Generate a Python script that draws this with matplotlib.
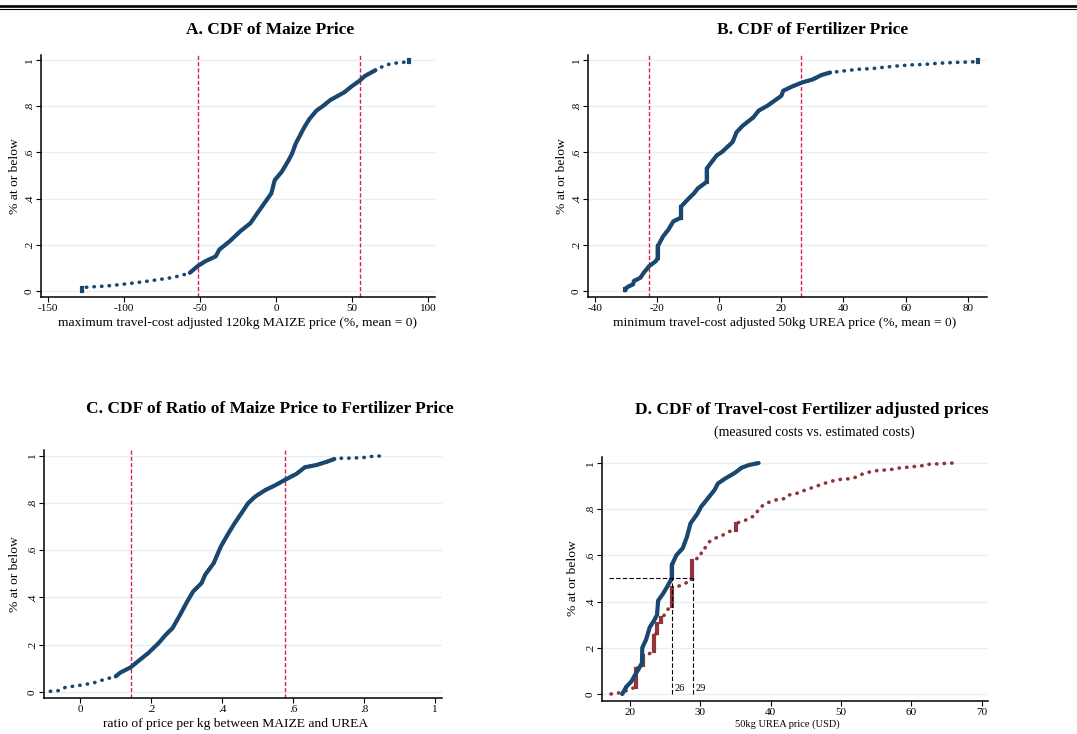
import matplotlib
matplotlib.use("Agg")
import matplotlib.pyplot as plt
import numpy as np
from matplotlib.lines import Line2D

plt.rcParams["font.family"] = ["Liberation Serif", "DejaVu Serif"]

# ---- data (x value, share at or below) ----
# A. maize price
a_x = [-127.2, -127.2, -118.1, -112.4, -103.3, -91.9, -80.6, -69.2, -62.3, -56.6,
       -51.6, -46.4, -39.6, -37.3, -30.5, -23.6, -16.8, -12.3, -7.7, -3.1,
       -0.9, 3.7, 8.2, 10.5, 12.8, 16.2, 18.5, 21.9, 26.5, 31.0,
       35.6, 44.7, 49.2, 54.7, 58.3, 65.2, 72.0, 78.8, 84.5, 87.3, 87.3]
a_y = [0.0, 0.015, 0.019, 0.021, 0.027, 0.036, 0.046, 0.057, 0.067, 0.079,
       0.107, 0.129, 0.150, 0.179, 0.215, 0.258, 0.294, 0.337, 0.380, 0.423,
       0.480, 0.516, 0.566, 0.595, 0.637, 0.680, 0.709, 0.745, 0.781, 0.802,
       0.827, 0.860, 0.884, 0.910, 0.931, 0.956, 0.979, 0.987, 0.991, 0.993, 1.0]
a_pct = [-51.4, 54.9]

# B. fertilizer price
b_x = [-30.2, -30.2, -29.3, -27.7, -27.5, -25.4, -24.3, -22.6, -20.4, -19.8,
       -19.8, -18.1, -16.4, -14.8, -12.3, -12.3, -10.3, -8.1, -6.9, -4.0,
       -4.0, -2.8, -0.8, 0.9, 4.3, 5.6, 7.6, 11.0, 12.7, 15.5,
       17.8, 20.0, 20.6, 23.4, 26.7, 30.1, 32.9, 35.7, 40.2, 44.7,
       49.2, 52.5, 57.0, 61.5, 66.0, 70.5, 75.0, 83.4, 83.4]
b_y = [0.003, 0.010, 0.019, 0.029, 0.043, 0.057, 0.079, 0.107, 0.129, 0.143,
       0.193, 0.236, 0.265, 0.301, 0.318, 0.365, 0.394, 0.423, 0.444, 0.473,
       0.530, 0.552, 0.587, 0.602, 0.645, 0.688, 0.716, 0.752, 0.781, 0.802,
       0.824, 0.845, 0.867, 0.885, 0.903, 0.916, 0.935, 0.946, 0.953, 0.960,
       0.963, 0.968, 0.974, 0.979, 0.981, 0.986, 0.989, 0.993, 1.0]
b_pct = [-22.7, 26.3]

# C. ratio maize / urea
c_x = [-0.084, -0.060, -0.041, -0.002, 0.037, 0.066, 0.100, 0.114, 0.142, 0.163,
       0.192, 0.221, 0.241, 0.260, 0.279, 0.299, 0.318, 0.342, 0.352, 0.376,
       0.396, 0.415, 0.435, 0.454, 0.473, 0.493, 0.522, 0.551, 0.576, 0.609,
       0.633, 0.667, 0.696, 0.716, 0.735, 0.750, 0.798, 0.813, 0.861]
c_y = [0.003, 0.006, 0.020, 0.028, 0.038, 0.052, 0.066, 0.083, 0.104, 0.130,
       0.165, 0.207, 0.242, 0.270, 0.320, 0.376, 0.425, 0.461, 0.496, 0.545,
       0.615, 0.665, 0.714, 0.756, 0.799, 0.827, 0.855, 0.876, 0.897, 0.923,
       0.951, 0.961, 0.975, 0.986, 0.989, 0.989, 0.992, 0.996, 1.0]
c_pct = [0.142, 0.576]

# D. measured (blue) vs estimated (red) travel-cost adjusted urea price
d_meas_x = [18.9, 19.5, 20.2, 20.6, 21.3, 21.7, 21.75, 22.3, 22.8, 23.4,
            23.85, 24.0, 24.7, 25.4, 25.95, 25.95, 26.6, 27.5, 28.1, 28.6,
            29.6, 30.1, 31.05, 32.0, 32.5, 33.5, 34.9, 35.9, 36.9, 38.3]
d_meas_y = [0.0, 0.032, 0.054, 0.076, 0.112, 0.134, 0.200, 0.236, 0.288, 0.317,
            0.342, 0.404, 0.434, 0.470, 0.502, 0.558, 0.601, 0.631, 0.680, 0.738,
            0.781, 0.810, 0.846, 0.882, 0.911, 0.932, 0.957, 0.980, 0.991, 1.0]
d_est_x = [17.3, 18.2, 19.1, 20.05, 20.88, 20.88, 21.44, 21.8, 21.8, 22.37,
           23.4, 23.4, 23.86, 23.86, 24.47, 24.47, 25.07, 25.26, 25.63, 25.95,
           25.95, 26.56, 27.49, 28.42, 28.88, 28.88, 29.35, 30.05, 30.2, 30.74,
           31.3, 32.0, 33.0, 33.97, 35.04, 35.04, 36.4, 37.85, 38.33, 39.3,
           40.75, 42.2, 42.7, 44.2, 44.9, 46.1, 47.55, 49.5, 51.7, 52.4,
           53.4, 55.3, 57.0, 58.2, 59.9, 62.1, 62.3, 65.97]
d_est_y = [0.0, 0.003, 0.010, 0.020, 0.032, 0.108, 0.120, 0.127, 0.166, 0.166,
           0.188, 0.251, 0.266, 0.302, 0.312, 0.331, 0.346, 0.361, 0.375, 0.382,
           0.458, 0.463, 0.473, 0.488, 0.499, 0.575, 0.584, 0.594, 0.623, 0.634,
           0.659, 0.673, 0.684, 0.702, 0.712, 0.738, 0.752, 0.774, 0.803, 0.825,
           0.840, 0.847, 0.862, 0.872, 0.883, 0.895, 0.911, 0.928, 0.933, 0.943,
           0.957, 0.968, 0.971, 0.978, 0.983, 0.990, 0.994, 1.0]
d_medians = [26, 29]

y_ticks = [0, 0.2, 0.4, 0.6, 0.8, 1.0]
y_labels = ["0", ".2", ".4", ".6", ".8", "1"]

BLUE = "#1a476f"
MAROON = "#90353b"
PINK = "#dc2249"

W, H = 1077, 734
fig = plt.figure(figsize=(W / 100, H / 100), dpi=100)


def box(l, t, r, b):
    return [l / W, 1 - b / H, (r - l) / W, (b - t) / H]


def ftext(x, y, s, **kw):
    fig.text(x / W, 1 - y / H, s, ha="center", va="center", **kw)


def style(ax, xlim, ylim, xticks, xlabels, xsize=8):
    for s in ["top", "right"]:
        ax.spines[s].set_visible(False)
    for s in ["left", "bottom"]:
        ax.spines[s].set_linewidth(1.1)
    ax.set_xlim(xlim)
    ax.set_ylim(ylim)
    ax.set_xticks(xticks)
    ax.set_xticklabels(xlabels)
    ax.set_yticks(y_ticks)
    ax.set_yticklabels(y_labels, rotation=90, va="center")
    ax.grid(axis="y", color="#e6eff1", lw=1)
    ax.set_axisbelow(True)
    ax.tick_params(direction="out", length=3.5, width=0.8, labelsize=xsize, pad=1.5)


def draw_cdf(ax, xs, ys, color, solid=None):
    xs = np.asarray(xs)
    ys = np.asarray(ys)
    ax.plot(xs, ys, color=color, lw=2.6, ls=(0, (0.1, 2.0)),
            dash_capstyle="round", zorder=3)
    if solid is not None:
        m = (xs >= solid[0]) & (xs <= solid[1])
        ax.plot(xs[m], ys[m], color=color, lw=3, solid_capstyle="round", zorder=3)
    for i in range(len(xs) - 1):
        if xs[i] == xs[i + 1]:
            ax.plot(xs[i:i + 2], ys[i:i + 2], color=color, lw=3, zorder=3)


# top double rule
fig.add_artist(Line2D([0, 1], [1 - 5.5 / H, 1 - 5.5 / H], color="black", lw=1.9))
fig.add_artist(Line2D([0, 1], [1 - 8.6 / H, 1 - 8.6 / H], color="black", lw=0.8))

# ---- A ----
ax = fig.add_axes(box(41, 54.5, 435, 297))
style(ax, (-154.3, 104.3), (-0.026, 1.024), [-150, -100, -50, 0, 50, 100],
      ["-150", "-100", "-50", "0", "50", "100"])
draw_cdf(ax, a_x, a_y, BLUE, solid=(-58, 70))
for v in a_pct:
    ax.axvline(v, color=PINK, lw=1, ls=(0, (3, 1.5)))
ftext(270, 30, "A. CDF of Maize Price", fontsize=12.5, fontweight="bold")
ftext(237, 323, "maximum travel-cost adjusted 120kg MAIZE price (%, mean = 0)", fontsize=9.7)
ftext(15, 176, "% at or below", fontsize=9.7, rotation=90)

# ---- B ----
ax = fig.add_axes(box(588, 54.5, 987, 297))
style(ax, (-42.24, 86.2), (-0.026, 1.024), [-40, -20, 0, 20, 40, 60, 80],
      ["-40", "-20", "0", "20", "40", "60", "80"])
draw_cdf(ax, b_x, b_y, BLUE, solid=(-31, 38))
for v in b_pct:
    ax.axvline(v, color=PINK, lw=1, ls=(0, (3, 1.5)))
ftext(813, 30, "B. CDF of Fertilizer Price", fontsize=12.5, fontweight="bold")
ftext(785, 323, "minimum travel-cost adjusted 50kg UREA price (%, mean = 0)", fontsize=9.7)
ftext(562, 176, "% at or below", fontsize=9.7, rotation=90)

# ---- C ----
ax = fig.add_axes(box(44, 450, 442, 698))
style(ax, (-0.1018, 1.019), (-0.0254, 1.024), [0, 0.2, 0.4, 0.6, 0.8, 1.0],
      ["0", ".2", ".4", ".6", ".8", "1"])
draw_cdf(ax, c_x, c_y, BLUE, solid=(0.10, 0.72))
for v in c_pct:
    ax.axvline(v, color=PINK, lw=1, ls=(0, (3, 1.5)))
ftext(270, 409, "C. CDF of Ratio of Maize Price to Fertilizer Price", fontsize=12.5, fontweight="bold")
ftext(236, 724, "ratio of price per kg between MAIZE and UREA", fontsize=9.7)
ftext(15, 574, "% at or below", fontsize=9.7, rotation=90)

# ---- D ----
ax = fig.add_axes(box(602, 457, 988, 700.6))
style(ax, (16.02, 70.92), (-0.0288, 1.026), [20, 30, 40, 50, 60, 70],
      ["20", "30", "40", "50", "60", "70"])
draw_cdf(ax, d_est_x, d_est_y, MAROON)
draw_cdf(ax, d_meas_x, d_meas_y, BLUE, solid=(18, 40))
ax.plot([17.0, d_medians[1]], [0.5, 0.5], color="black", lw=0.8, ls=(0, (4, 2)), zorder=4)
for m in d_medians:
    ax.plot([m, m], [0, 0.5], color="black", lw=0.8, ls=(0, (4, 2)), zorder=4)
    ax.text(m + 0.35, 0.003, str(m), fontsize=7.5, ha="left", va="bottom")
ftext(812, 410, "D. CDF of Travel-cost Fertilizer adjusted prices", fontsize=12.5, fontweight="bold")
ftext(814, 432, "(measured costs vs. estimated costs)", fontsize=10)
ftext(787, 724, "50kg UREA price (USD)", fontsize=7.5)
ftext(573, 578, "% at or below", fontsize=9.7, rotation=90)

fig.savefig("out.png", dpi=100)
